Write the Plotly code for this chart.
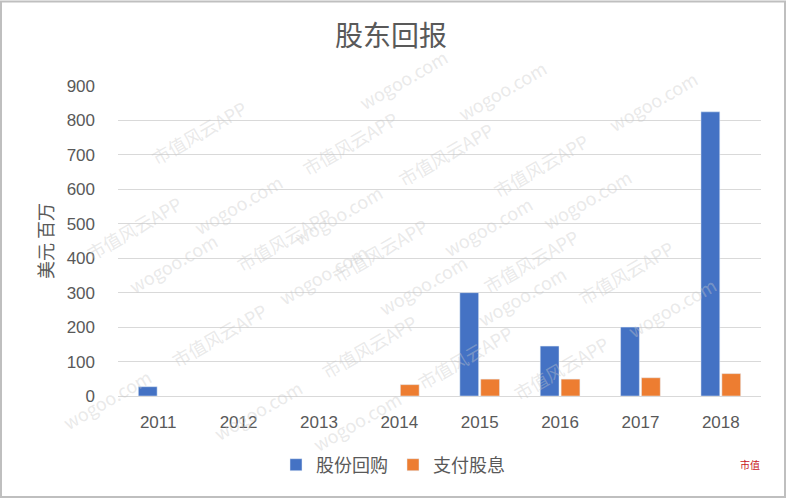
import plotly.graph_objects as go
import math

years = ["2011", "2012", "2013", "2014", "2015", "2016", "2017", "2018"]
buyback = [27, None, None, None, 300, 145, 200, 825]
dividend = [None, None, None, 33, 49, 49, 53, 65]
y_ticks = [0, 100, 200, 300, 400, 500, 600, 700, 800, 900]

W, H = 787, 499
ML, MR, MT, MB = 118, 26, 86, 103
PW, PH = W - ML - MR, H - MT - MB

FONT = "Noto Sans CJK SC"
GRAY = "#595959"

fig = go.Figure()
fig.add_trace(go.Bar(x=years, y=buyback, name="股份回购", marker_color="#4472C4"))
fig.add_trace(go.Bar(x=years, y=dividend, name="支付股息", marker_color="#ED7D31"))

def px2paper(px, py):
    return (px - ML) / PW, (H - MB - py) / PH

annotations = []
# faint watermark lattice
ang = math.radians(30)
ux, uy = math.cos(ang), -math.sin(ang)
vx, vy = math.sin(ang), math.cos(ang)
texts = ["市值风云APP", "wogoo.com"]
for r in range(-6, 8):
    for c in range(-6, 8):
        cx = 380 + c * 125 * ux + r * 85 * vx
        cy = 250 + c * 125 * uy + r * 85 * vy
        if 50 < cx < W - 50 and 30 < cy < H - 30 and not (cx > 640 and cy > 380):
            xp, yp = px2paper(cx, cy)
            annotations.append(dict(
                x=xp, y=yp, xref="paper", yref="paper", text=texts[(r + c) % 2],
                showarrow=False, textangle=-30,
                font=dict(family=FONT, size=18, color="rgba(200,200,200,0.4)")))

# logo seal bottom-right
xl, yl = px2paper(762, 474)
annotations.append(dict(x=xl, y=yl, xref="paper", yref="paper", text="市值",
                        showarrow=False, font=dict(family=FONT, size=10, color="#c8161d")))

fig.update_layout(
    width=W, height=H,
    margin=dict(l=ML, r=MR, t=MT, b=MB),
    paper_bgcolor="white", plot_bgcolor="white",
    title=dict(text="股东回报", x=391 / W, xanchor="center", y=1 - 36 / H, yanchor="middle",
               font=dict(family=FONT, size=28, color=GRAY)),
    barmode="group", bargap=0.48, bargroupgap=0.1,
    showlegend=True,
    legend=dict(orientation="h", x=(393 - ML) / PW, xanchor="center",
                y=-(465 - (H - MB)) / PH, yanchor="middle",
                font=dict(family=FONT, size=18, color=GRAY), itemwidth=30, traceorder="normal"),
    font=dict(family=FONT, color=GRAY),
    annotations=annotations,
    shapes=[dict(type="rect", xref="paper", yref="paper",
                 x0=(1 - ML) / PW, x1=(W - 2 - ML) / PW,
                 y0=-(MB - 2) / PH, y1=1 + (MT - 1.5) / PH,
                 line=dict(color="#BFBFBF", width=2), layer="below")],
)
fig.update_xaxes(type="category", showgrid=False, showline=True, linecolor="#D9D9D9", linewidth=1,
                 tickfont=dict(family="Liberation Sans", size=17, color=GRAY), ticks="",
                 ticklabelstandoff=11)
fig.update_yaxes(range=[0, 900], tickvals=y_ticks, showgrid=True, gridcolor="#D9D9D9", gridwidth=1,
                 zeroline=False, showline=False,
                 tickfont=dict(family="Liberation Sans", size=17, color=GRAY), ticks="",
                 ticklabelstandoff=22,
                 title=dict(text="美元 百万", font=dict(family=FONT, size=18, color=GRAY), standoff=8))

fig.write_html("out.html")
